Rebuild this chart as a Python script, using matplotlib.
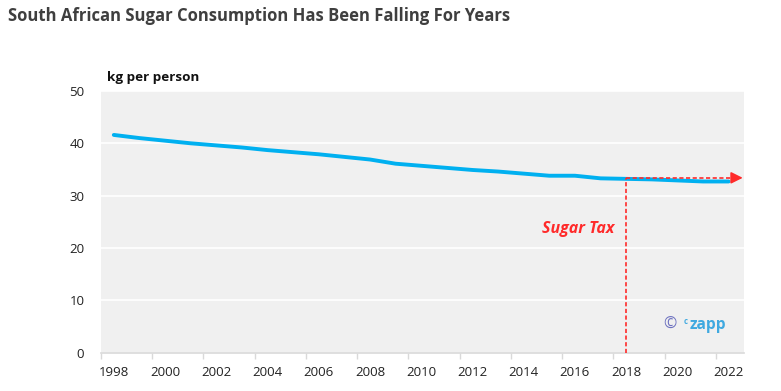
import matplotlib.pyplot as plt
import numpy as np

# sugar consumption, kg per person
years = [1998, 1999, 2000, 2001, 2002, 2003, 2004, 2005, 2006, 2007, 2008, 2009,
         2010, 2011, 2012, 2013, 2014, 2015, 2016, 2017, 2018, 2019, 2020, 2021, 2022]
consumption = [41.6, 41.0, 40.5, 40.0, 39.6, 39.2, 38.7, 38.3, 37.9, 37.4, 36.9, 36.1,
               35.7, 35.3, 34.9, 34.6, 34.2, 33.8, 33.8, 33.3, 33.2, 33.1, 32.9, 32.7, 32.7]
tax_year = 2018
tax_level = 33.4
arrow_end = 2022.55

plt.rcParams['font.family'] = ['Open Sans', 'DejaVu Sans']

fig = plt.figure(figsize=(7.81, 3.91), dpi=100)
ax = fig.add_axes([101 / 781, (391 - 352.5) / 391, (744 - 101) / 781, (352.5 - 91) / 391])
ax.set_facecolor('#f0f0f0')

ax.plot(years, consumption, color='#00b0f0', lw=2.8, solid_capstyle='round', zorder=3)

# sugar tax marker
red = '#ff2a2a'
ax.plot([tax_year, tax_year], [0, tax_level], color=red, lw=1.2, ls=(0, (2.5, 1.5)), zorder=4)
ax.plot([tax_year, arrow_end - 0.3], [tax_level, tax_level], color=red, lw=1.2,
        ls=(0, (2.5, 1.5)), zorder=4)
ax.annotate('', xy=(arrow_end, tax_level), xytext=(arrow_end - 0.4, tax_level),
            arrowprops=dict(arrowstyle='-|>,head_length=0.7,head_width=0.35',
                            color=red, lw=1.2, shrinkA=0, shrinkB=0),
            annotation_clip=False, zorder=5)
ax.text(tax_year - 0.45, 23.6, 'Sugar Tax', color=red, fontsize=11.5, fontweight='bold',
        fontstyle='italic', ha='right', va='center')

# logo
ax.text(2019.72, 5.2, '\u00a9', color='#6e72c0', fontsize=11.5, ha='center', va='center')
ax.text(2020.25, 5.9, 'c', color='#3fa9e0', fontsize=5.5, fontweight='bold', ha='left', va='center')
ax.text(2020.47, 5.2, 'zapp', color='#3fa9e0', fontsize=11.2, fontweight='bold', ha='left', va='center')

ax.set_xlim(years[0] - 0.5, years[-1] + 0.6)
ax.set_ylim(0, 50)
ax.set_yticks(np.arange(0, 51, 10))
ax.set_xticks(years[::2])
ax.set_xticks(np.arange(years[0] - 0.5, years[-1] + 1, 2), minor=True)
ax.tick_params(axis='x', which='major', length=0, pad=10, labelsize=9.5, colors='#222222')
ax.tick_params(axis='x', which='minor', length=4, color='#d9d9d9', width=1)
ax.tick_params(axis='y', length=0, pad=12, labelsize=9.5, colors='#222222')
ax.grid(axis='y', color='white', lw=1.2)
ax.set_axisbelow(True)
for s in ['top', 'right', 'left']:
    ax.spines[s].set_visible(False)
ax.spines['bottom'].set_color('#d9d9d9')
ax.spines['bottom'].set_linewidth(1.2)

fig.text(107 / 781, 1 - 77 / 391, 'kg per person', fontsize=9.7, fontweight='bold',
         color='#111111', va='center', ha='left')
fig.text(8 / 781, 1 - 16 / 391, 'South African Sugar Consumption Has Been Falling For Years',
         fontsize=12.0, fontweight='bold', color='#3f3f3f', va='center', ha='left')

fig.savefig('out.png', dpi=100)
